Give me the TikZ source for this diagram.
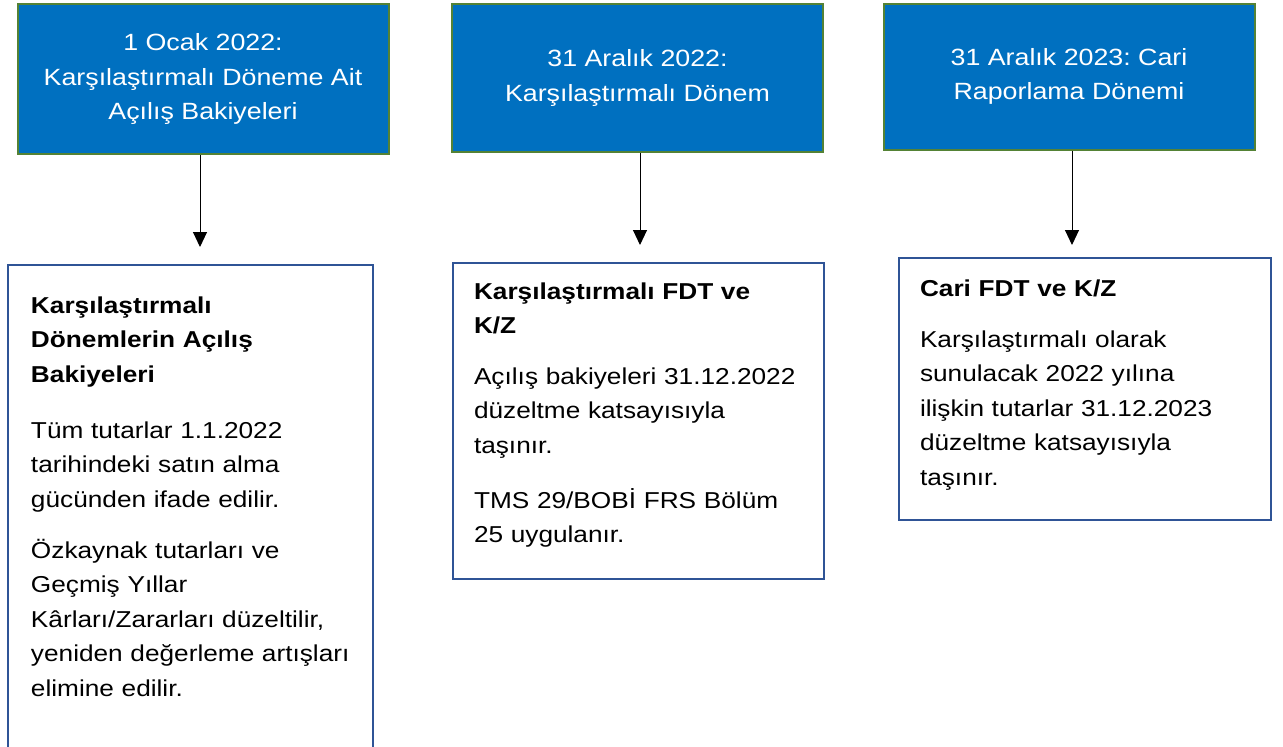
\documentclass[tikz,border=0pt]{standalone}
\usepackage{fontspec}
\setmainfont{Liberation Sans}[FakeStretch=1.14]
\usetikzlibrary{arrows.meta}
\definecolor{bleuboite}{RGB}{0,112,192}
\definecolor{vertbord}{RGB}{84,130,53}
\definecolor{bleubord}{RGB}{47,84,150}
\frenchspacing
\begin{document}
\begin{tikzpicture}[x=1pt, y=-1pt,
	haut/.style={draw=vertbord, line width=2pt, fill=bleuboite, text=white, align=center, minimum width=371pt, minimum height=148pt, font=\fontsize{23.5}{34.5}\selectfont},
	bas/.style={draw=bleubord, line width=2pt, anchor=north west, align=left, inner xsep=0pt, inner ysep=19pt, text height=17pt, font=\fontsize{23}{34.5}\selectfont, execute at begin node={\leftskip=21pt}},
	fleche/.style={-{Triangle[length=15pt, width=14pt]}, line width=1pt, shorten >=17pt}]
	% le cadre
	\useasboundingbox (0,0) rectangle (1283,747);
	\clip (0,0) rectangle (1283,747);
	% les trois dates
	\node[haut, minimum height=150pt] (a1) at (203,79) {1 Ocak 2022:\\ Karşılaştırmalı Döneme Ait\\ Açılış Bakiyeleri};
	\node[haut] (a2) at (637.5,78) {31 Aralık 2022:\\ Karşılaştırmalı Dönem};
	\node[haut, minimum height=146pt] (a3) at (1069,76.5) {31 Aralık 2023: Cari\\ Raporlama Dönemi};
	% les détails
	\node[bas, text width=365pt, text height=29pt, text depth=436pt, execute at begin node={\leftskip=23pt}] (b1) at (7,264) {\textbf{Karşılaştırmalı}\\ \textbf{Dönemlerin Açılış}\\ \textbf{Bakiyeleri}\\[21.5pt] Tüm tutarlar 1.1.2022\\ tarihindeki satın alma\\ gücünden ifade edilir.\\[16.5pt] Özkaynak tutarları ve\\ Geçmiş Yıllar\\ Kârları/Zararları düzeltilir,\\ yeniden değerleme artışları\\ elimine edilir.};
	\node[bas, text width=371pt, text depth=261pt] (b2) at (452,262) {\textbf{Karşılaştırmalı FDT ve}\\ \textbf{K/Z}\\[16pt] Açılış bakiyeleri 31.12.2022\\ düzeltme katsayısıyla\\ taşınır.\\[20.5pt] TMS 29/BOBİ FRS Bölüm\\ 25 uygulanır.};
	\node[bas, text width=372pt, text height=19pt, text depth=205pt] (b3) at (898,257) {\textbf{Cari FDT ve K/Z}\\[16.5pt] Karşılaştırmalı olarak\\ sunulacak 2022 yılına\\ ilişkin tutarlar 31.12.2023\\ düzeltme katsayısıyla\\ taşınır.};
	% les flèches
	\draw[fleche] ([xshift=-3pt]a1.south) -- ([xshift=-3pt]a1.south |- b1.north);
	\draw[fleche] ([xshift=2.5pt]a2.south) -- ([xshift=2.5pt]a2.south |- b2.north);
	\draw[fleche, shorten >=12pt] ([xshift=3pt]a3.south) -- ([xshift=3pt]a3.south |- b3.north);
\end{tikzpicture}
\end{document}
